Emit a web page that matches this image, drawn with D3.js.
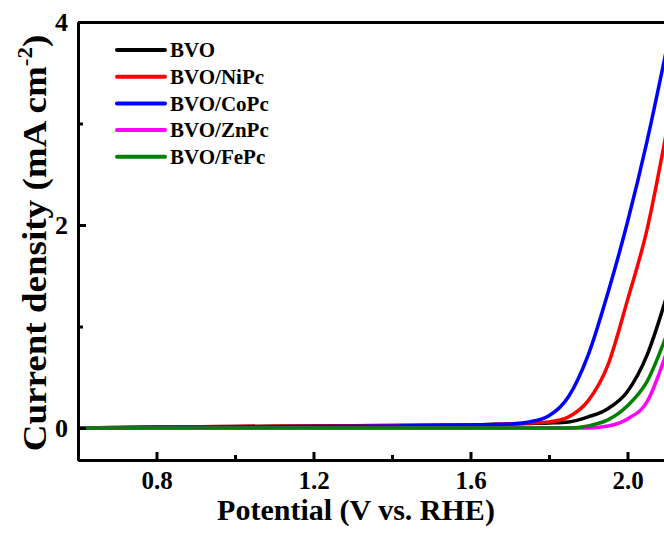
<!DOCTYPE html>
<html>
<head>
<meta charset="utf-8">
<script src="https://cdn.jsdelivr.net/npm/d3@7"></script>
<style>
  body { margin: 0; background: #fff; }
</style>
</head>
<body>
<svg id="svg" width="664" height="533"></svg>
<script>
// potential grid (V vs. RHE) and current densities (mA cm-2)
const potential = [0.6, 0.8, 1.0, 1.2, 1.4, 1.6, 1.7, 1.75, 1.8, 1.85, 1.9, 1.95, 2.0, 2.05, 2.1];
const bvo      = [0.0, 0.01, 0.015, 0.02, 0.025, 0.03, 0.04, 0.045, 0.05, 0.06, 0.11, 0.19, 0.36, 0.72, 1.3];
const bvoNiPc  = [0.0, 0.01, 0.015, 0.02, 0.025, 0.03, 0.04, 0.05, 0.06, 0.11, 0.27, 0.62, 1.26, 1.96, 2.93];
const bvoCoPc  = [0.0, 0.005, 0.01, 0.015, 0.02, 0.03, 0.04, 0.06, 0.12, 0.31, 0.72, 1.33, 2.03, 2.83, 3.74];
const bvoZnPc  = [0.0, 0.0, 0.0, 0.0, 0.0, 0.0, 0.0, 0.0, 0.0, 0.0, 0.0, 0.02, 0.09, 0.26, 0.75];
const bvoFePc  = [0.0, 0.0, 0.0, 0.0, 0.0, 0.0, 0.0, 0.0, 0.0, 0.0, 0.02, 0.08, 0.22, 0.46, 0.92];

const seriesNames = ["BVO", "BVO/NiPc", "BVO/CoPc", "BVO/ZnPc", "BVO/FePc"];
const seriesValues = [bvo, bvoNiPc, bvoCoPc, bvoZnPc, bvoFePc];
const seriesColors = ["#000000", "#ff0000", "#0000ff", "#ff00ff", "#008000"];

const xMajor = [0.8, 1.2, 1.6, 2.0];
const xMinor = [1.0, 1.4, 1.8];
const yMajor = [0, 2, 4];
const yMinor = [1, 3];

const dims = { width: 664, height: 533 };
const plot = { left: 78, top: 22, bottom: 460 };
const serif = "'Liberation Serif', 'Times New Roman', 'DejaVu Serif', serif";

let xScale = d3.scaleLinear()
    .domain([0.6, 2.1])
    .range([plot.left, plot.left + 1.5 * 392.5]);
let yScale = d3.scaleLinear()
    .domain([-0.315, 4])
    .range([plot.bottom, plot.top]);

let mySvg = d3.select('#svg');

mySvg.append("clipPath").attr("id", "clip")
    .append("rect")
    .attr("x", plot.left).attr("y", plot.top)
    .attr("width", dims.width - plot.left).attr("height", plot.bottom - plot.top);

// curves
let line = d3.line()
    .x(d => xScale(d[0]))
    .y(d => yScale(d[1]))
    .curve(d3.curveMonotoneX);

let curves = mySvg.append("g").attr("clip-path", "url(#clip)");
seriesValues.forEach((vals, k) => {
    curves.append("path")
        .datum(potential.map((v, i) => [v, vals[i]]))
        .attr("d", line)
        .attr("fill", "none")
        .attr("stroke", seriesColors[k])
        .attr("stroke-width", 3.5);
});

// axes
function styleAxis(g) {
    g.attr("font-family", serif).attr("font-weight", "bold");
    g.select(".domain").attr("stroke", "#000").attr("stroke-width", 3);
    g.selectAll(".tick line").attr("stroke", "#000").attr("stroke-width", 3);
    g.selectAll(".tick text").attr("fill", "#000");
}

mySvg.append("g")
    .attr("transform", `translate(0, ${plot.bottom})`)
    .call(d3.axisBottom(xScale).tickValues(xMinor).tickSize(-5).tickSizeOuter(0).tickFormat(""))
    .call(styleAxis);
mySvg.append("g")
    .attr("transform", `translate(0, ${plot.bottom})`)
    .call(d3.axisBottom(xScale).tickValues(xMajor).tickSize(-8).tickSizeOuter(0)
        .tickPadding(11).tickFormat(d3.format(".1f")))
    .call(styleAxis)
    .attr("font-size", 25);

mySvg.append("g")
    .attr("transform", `translate(${plot.left}, 0)`)
    .call(d3.axisLeft(yScale).tickValues(yMinor).tickSize(-5).tickSizeOuter(0).tickFormat(""))
    .call(styleAxis);
mySvg.append("g")
    .attr("transform", `translate(${plot.left}, 0)`)
    .call(d3.axisLeft(yScale).tickValues(yMajor).tickSize(-8).tickSizeOuter(0)
        .tickPadding(10).tickFormat(d3.format("d")))
    .call(styleAxis)
    .attr("font-size", 26);

mySvg.append("g")
    .attr("transform", `translate(0, ${plot.top})`)
    .call(d3.axisTop(xScale).tickValues([]).tickSizeOuter(0))
    .call(styleAxis);

// axis titles
mySvg.append("text")
    .attr("x", 356).attr("y", 520)
    .attr("text-anchor", "middle")
    .attr("font-family", serif).attr("font-weight", "bold")
    .attr("font-size", 30)
    .text("Potential (V vs. RHE)");

let yTitle = mySvg.append("text")
    .attr("transform", "translate(46, 243) rotate(-90) scale(1.09, 1)")
    .attr("text-anchor", "middle")
    .attr("font-family", serif).attr("font-weight", "bold")
    .attr("font-size", 34);
yTitle.append("tspan").text("Current density (mA cm");
yTitle.append("tspan").attr("font-size", 21).attr("dy", -14).text("-2");
yTitle.append("tspan").attr("dy", 14).text(")");

// legend
let legend = mySvg.append("g")
    .attr("font-family", serif).attr("font-weight", "bold");
seriesNames.forEach((name, k) => {
    let y = 50 + k * 26.7;
    legend.append("line")
        .attr("x1", 117).attr("x2", 165).attr("y1", y).attr("y2", y)
        .attr("stroke", seriesColors[k]).attr("stroke-width", 4)
        .attr("stroke-linecap", "round");
    legend.append("text")
        .attr("x", 170).attr("y", y).attr("dy", "0.35em")
        .attr("font-size", 21)
        .text(name);
});
</script>
</body>
</html>
